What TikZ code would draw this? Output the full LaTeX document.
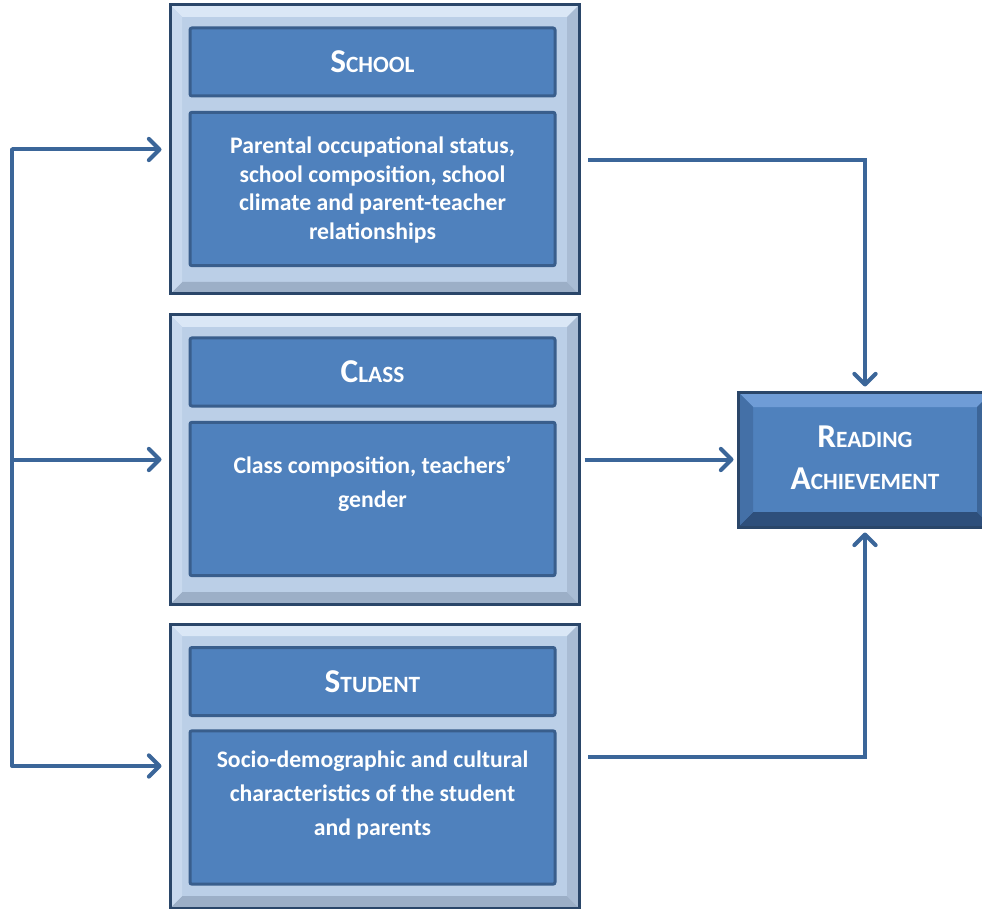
\documentclass[tikz,border=0pt]{standalone}
\usepackage{fontspec}
\setmainfont{Carlito}
\usetikzlibrary{arrows.meta}

\definecolor{panelfill}{HTML}{BBCFE7}
\definecolor{paneltop}{HTML}{DAE7F6}
\definecolor{panelleft}{HTML}{C8D9EE}
\definecolor{panelright}{HTML}{A9BCD4}
\definecolor{panelbottom}{HTML}{9CAFC7}
\definecolor{paneledge}{HTML}{2A4669}
\definecolor{boxfill}{HTML}{4F81BD}
\definecolor{boxedge}{HTML}{395E8C}
\definecolor{readtop}{HTML}{6F9CD6}
\definecolor{readleft}{HTML}{4470A7}
\definecolor{readright}{HTML}{3C6598}
\definecolor{readbottom}{HTML}{2E4F7B}
\definecolor{arrowblue}{HTML}{3B6699}

\newcommand{\capsfake}[2]{{\fontsize{25}{30}\selectfont #1}{\fontsize{17.5}{21}\selectfont #2}}

\tikzset{every picture/.style={line width=0.75pt}}

\begin{document}
\begin{tikzpicture}[x=0.75pt,y=0.75pt,yscale=-1,xscale=1,
		panel/.style={draw=paneledge,line width=2.25pt,inner sep=0pt,minimum width=306.75pt},
		headbox/.style={draw=boxedge,fill=boxfill,line width=2.25pt,rounded corners=1.5pt,inner sep=0pt,minimum width=273.75pt,minimum height=51pt,text=white,font=\bfseries},
		bodybox/.style={draw=boxedge,fill=boxfill,line width=2.25pt,rounded corners=1.5pt,inner sep=0pt,minimum width=273.75pt,minimum height=115pt},
		bodytext/.style={inner sep=0pt,text=white,align=center},
		link/.style={draw=arrowblue,line width=3pt},
		arrow/.style={link,-{Straight Barb[length=8pt,width=16pt,round]}}]
				\useasboundingbox (0,0) rectangle (982,909);
				
				%Shape: Bevel panels
				\foreach \t/\b in {5/294,315/604,624/908}{
					\fill[panelfill] (170,\t) rectangle (579,\b);
					\fill[paneltop] (171,\t+1) -- (578,\t+1) -- (567,\t+12) -- (182,\t+12) -- cycle;
					\fill[panelbottom] (171,\b-1) -- (578,\b-1) -- (567,\b-12) -- (182,\b-12) -- cycle;
					\fill[panelleft] (171,\t+1) -- (182,\t+12) -- (182,\b-12) -- (171,\b-1) -- cycle;
					\fill[panelright] (578,\t+1) -- (567,\t+12) -- (567,\b-12) -- (578,\b-1) -- cycle;
				}
				%Shape: Bevel reading box
				\fill[boxfill] (738,392) rectangle (992,527);
				\fill[readtop] (739,393) -- (991,393) -- (977,407) -- (753,407) -- cycle;
				\fill[readbottom] (739,526) -- (991,526) -- (977,512) -- (753,512) -- cycle;
				\fill[readleft] (739,393) -- (753,407) -- (753,512) -- (739,526) -- cycle;
				\fill[readright] (991,393) -- (977,407) -- (977,512) -- (991,526) -- cycle;
				
				%Shape: Rectangle
				\node (school) [panel,minimum height=216.75pt] at (374.5,149.5) {};
				%Shape: Rectangle
				\node (class) [panel,minimum height=216.75pt] at (374.5,459.5) {};
				%Shape: Rectangle
				\node (student) [panel,minimum height=213pt] at (374.5,766) {};
				%Shape: Rectangle
				\node (reading) [draw=paneledge,line width=2.25pt,inner sep=0pt,minimum width=190.5pt,minimum height=101.25pt] at (865,459.5) {};
				
				%Shape: Rectangle
				\node (schoolhead) [headbox] at (372.5,62) {\capsfake{S}{CHOOL}};
				%Shape: Rectangle
				\node (schoolbody) [bodybox] at (372.5,189) {};
				%Shape: Rectangle
				\node (classhead) [headbox] at (372.5,372) {\capsfake{C}{LASS}};
				%Shape: Rectangle
				\node (classbody) [bodybox] at (372.5,499) {};
				%Shape: Rectangle
				\node (studenthead) [headbox] at (372.5,681.5) {\capsfake{S}{TUDENT}};
				%Shape: Rectangle
				\node (studentbody) [bodybox] at (372.5,807.5) {};
				
				% Text Node
				\node (schooltext) [bodytext,font=\bfseries\fontsize{17.8}{21.5}\selectfont] at (372.5,190) {Parental occupational status,\\school composition, school\\climate and parent-teacher\\relationships};
				% Text Node
				\node (classtext) [bodytext,font=\bfseries\fontsize{17.8}{25.5}\selectfont] at (372.5,484) {Class composition, teachers'\\gender};
				% Text Node
				\node (studenttext) [bodytext,font=\bfseries\fontsize{17.8}{25.5}\selectfont] at (372.5,795.5) {Socio-demographic and cultural\\characteristics of the student\\and parents};
				% Text Node
				\node (readingtext) [bodytext,font=\bfseries\fontsize{25}{31.5}\selectfont] at (865,458) {\capsfake{R}{EADING}\\\capsfake{A}{CHIEVEMENT}};
				
				%Straight Lines
				\coordinate (trunktop) at (12,149.5);
				\coordinate (trunkbot) at (12,766);
				\draw [link,line cap=round] (trunktop) -- (trunkbot);
				%Straight Lines
				\draw [arrow] (trunktop) -- ([xshift=-5.25pt]school.west);
				%Straight Lines
				\draw [arrow] (class.west -| trunktop) -- ([xshift=-5.25pt]class.west);
				%Straight Lines
				\draw [arrow] (trunkbot) -- ([xshift=-5.25pt]student.west);
				
				%Straight Lines
				\coordinate (schoolout) at (588,160);
				\draw [arrow,shorten >=3pt] (schoolout) -| (reading.north);
				%Straight Lines
				\draw [arrow,shorten <=3pt,shorten >=2.25pt] (class.east) -- (reading.west);
				%Straight Lines
				\coordinate (studentout) at (588,757);
				\draw [arrow,shorten >=3pt] (studentout) -| (reading.south);
\end{tikzpicture}
\end{document}
